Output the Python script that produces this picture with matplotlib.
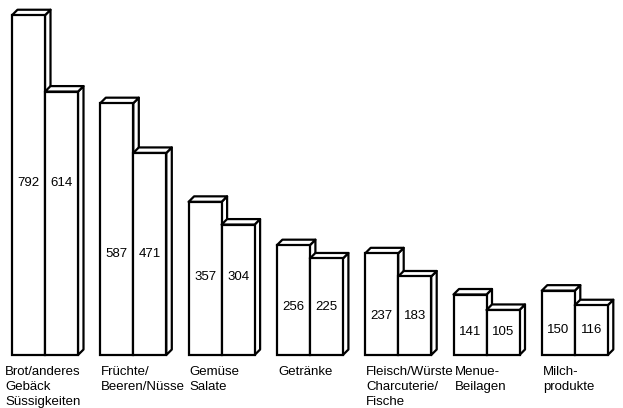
import matplotlib.pyplot as plt
from matplotlib.patches import Polygon, Rectangle

# data
categories = ["Brot/anderes\nGebäck\nSüssigkeiten", "Früchte/\nBeeren/Nüsse", "Gemüse\nSalate",
              "Getränke", "Fleisch/Würste\nCharcuterie/\nFische", "Menue-\nBeilagen", "Milch-\nprodukte"]
first = [792, 587, 357, 256, 237, 141, 150]
second = [614, 471, 304, 225, 183, 105, 116]

plt.rcParams['font.family'] = ['Liberation Sans', 'DejaVu Sans']

W, H = 623, 408
fig = plt.figure(figsize=(W / 100, H / 100), dpi=100)
ax = fig.add_axes([0, 0, 1, 1])

# pixel layout: baseline at y=355 px, 0.429 px per unit
base_px = 355
scale = 0.429
ax.set_xlim(0, W)
ax.set_ylim(-(H - base_px) / scale, base_px / scale)
ax.axis('off')

bar_w = 33
group_step = 88.3
x0 = 12
dx = 5.5
dy = 5.5 / scale
lw = 1.6
fs = 9.5


def bar3d(x, h):
    # side face
    ax.add_patch(Polygon([(x + bar_w, 0), (x + bar_w + dx, dy), (x + bar_w + dx, h + dy), (x + bar_w, h)],
                         closed=True, facecolor='white', edgecolor='black', lw=lw, joinstyle='round'))
    # top face
    ax.add_patch(Polygon([(x, h), (x + dx, h + dy), (x + bar_w + dx, h + dy), (x + bar_w, h)],
                         closed=True, facecolor='white', edgecolor='black', lw=lw, joinstyle='round'))
    # front face
    ax.add_patch(Rectangle((x, 0), bar_w, h, facecolor='white', edgecolor='black', lw=lw))


for i in range(len(categories)):
    x = x0 + i * group_step
    bar3d(x, first[i])
    bar3d(x + bar_w, second[i])
    if i == 0:
        ly = 400
    elif i == 2:
        ly = 182
    else:
        ly = second[i] / 2
    ax.text(x + bar_w / 2, ly, str(first[i]), ha='center', va='center', fontsize=fs)
    ax.text(x + bar_w * 1.5, ly, str(second[i]), ha='center', va='center', fontsize=fs)
    ax.text(x - 7 if i == 0 else x + 1, -(366 - base_px) / scale, categories[i],
            ha='left', va='top', fontsize=fs, linespacing=1.35)

fig.savefig("out.png", dpi=100)
